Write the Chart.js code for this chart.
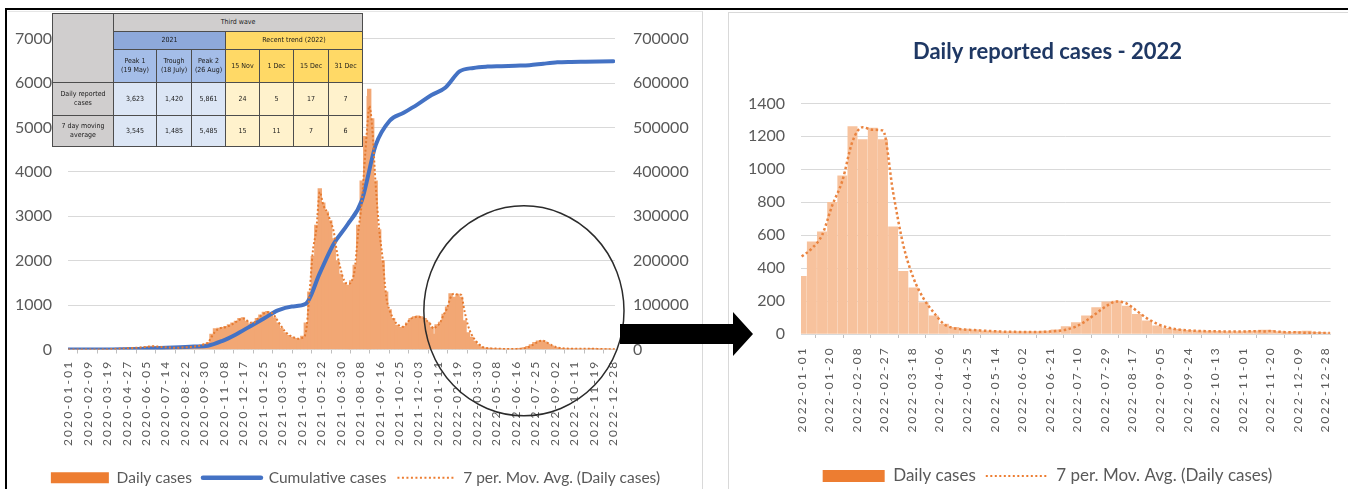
<!DOCTYPE html>
<html>
<head>
<meta charset="utf-8">
<script src="https://cdn.jsdelivr.net/npm/chart.js@4.4.1/dist/chart.umd.min.js"></script>
<style>
  html, body { margin: 0; padding: 0; background: #fff; width: 1348px; height: 489px; overflow: hidden; font-family: Lato, "Open Sans", sans-serif; }
  #frame { position: absolute; left: 5px; top: 8px; width: 1343px; height: 490px; border-top: 2px solid #000; border-left: 2px solid #000; box-sizing: border-box; }
  #leftPanel { position: absolute; left: 8px; top: 11px; width: 695px; height: 490px; border-right: 1px solid #d9d9d9; border-top: 1px solid #e6e6e6; box-sizing: border-box; }
  #rightPanel { position: absolute; left: 728px; top: 12px; width: 620px; height: 490px; border-left: 1px solid #d9d9d9; border-top: 1px solid #d9d9d9; box-sizing: border-box; }
  #leftChart { position: absolute; left: 8px; top: 11px; }
  #rightChart { position: absolute; left: 729px; top: 13px; }
  #waveTable { position: absolute; left: 52px; top: 13px; border-collapse: collapse; table-layout: fixed; width: 310px;
    font-family: "Liberation Sans Narrow", "DejaVu Sans Condensed", "Liberation Sans", sans-serif; font-size: 7px; line-height: 1.25;
    color: #1a1a1a; text-align: center; filter: blur(0.4px); }
  #waveTable td { border: 1px solid #4d4d4d; padding: 0 1px; overflow: hidden; vertical-align: middle; }
  .gray { background: #d0cece; }
  .blueHead { background: #8ea9db; }
  .goldHead { background: #ffd966; }
  .blueLabel { background: #a4bde8; }
  .blueCell { background: #dce6f5; }
  .goldCell { background: #fff2cc; }
  #pointer { position: absolute; left: 0; top: 0; width: 1348px; height: 489px; pointer-events: none; }
</style>
</head>
<body>
<div id="frame"></div>
<div id="leftPanel"></div>
<div id="rightPanel"></div>
<canvas id="leftChart" width="695" height="500"></canvas>
<canvas id="rightChart" width="619" height="500"></canvas>
<table id="waveTable"></table>
<svg id="pointer" viewBox="0 0 1348 489">
  <polygon points="620,324 733,324 733,312 753,334 733,356 733,344 620,344" fill="#000"/>
</svg>
<script>
// ---- Reported cases, sampled weekly from the first day of each range ----
const daily2020to2021 = [
  0, 0, 0, 0, 0, 0, 0, 0, 0, 0, 0,
  2, 8, 15, 20, 22, 25, 30, 35, 40, 45,
  50, 60, 70, 75, 70, 60, 55, 50, 45, 40,
  40, 45, 50, 55, 60, 70, 80, 100, 130, 160,
  350, 470, 480, 500, 520, 560, 600, 640, 700, 720,
  640, 580, 620, 700, 780, 840, 860, 820, 720, 600,
  480, 380, 320, 280, 250, 240, 300, 600, 1300, 2100,
  2800, 3623, 3300, 3100, 2900, 2500, 2000, 1700, 1500, 1450,
  1550, 1900, 2800, 3800, 4800, 5700, 5200, 3800, 2700, 2000,
  1300, 900, 700, 550, 500, 520, 600, 700, 740, 760,
  740, 700, 620, 500
];
const movingAvg2020to2021 = [
  0, 0, 0, 0, 0, 0, 0, 0, 0, 0, 0,
  1, 5, 12, 18, 20, 23, 28, 33, 38, 43,
  48, 55, 65, 72, 70, 62, 56, 50, 46, 42,
  40, 43, 48, 53, 58, 66, 76, 92, 120, 150,
  280, 400, 460, 490, 500, 530, 570, 620, 670, 700,
  660, 600, 600, 670, 750, 810, 840, 830, 760, 640,
  520, 410, 340, 290, 260, 240, 260, 380, 1200, 2200,
  2700, 3545, 3250, 3100, 2900, 2650, 2150, 1800, 1550, 1480,
  1520, 1800, 2640, 3300, 4400, 5400, 5000, 3700, 2700, 2040,
  1200, 880, 700, 580, 530, 510, 600, 690, 720, 740,
  720, 690, 620, 540
];
const daily2022 = [
  350, 560, 620, 800, 960, 1260, 1180, 1250, 1180, 650,
  380, 280, 190, 110, 60, 40, 30, 25, 20, 18,
  15, 15, 14, 15, 18, 25, 45, 70, 110, 160,
  195, 200, 170, 120, 80, 50, 35, 28, 22, 20,
  18, 16, 15, 15, 17, 20, 22, 15, 12, 14,
  12, 10, 7
];
const movingAvg2022 = [
  470, 520, 600, 780, 930, 1170, 1255, 1240, 1235, 860,
  540, 340, 215, 130, 60, 35, 27, 24, 20, 17,
  14, 13, 12, 12, 14, 18, 26, 45, 80, 125,
  170, 198, 185, 140, 95, 62, 40, 28, 22, 19,
  17, 16, 15, 15, 16, 17, 18, 14, 11, 9,
  8, 7, 6
];
// Running total, every 28 days from 2020-01-01
const cumulativeCases = [
  0, 0, 0, 50, 500, 1200, 2300, 3800, 5200, 6500,
  8500, 19000, 34000, 52000, 70000, 88000, 97000, 103000, 172000, 238000,
  282000, 335000, 460000, 515000, 533000, 552000, 573000, 590000, 626000, 634000,
  637000, 638000, 639000, 640000, 643500, 646500, 647500, 648000, 648500, 649000
];

// ---- Reference days quoted in the summary table ----
const keyDates = ['2021-05-19', '2021-07-18', '2021-08-26', '2022-11-15', '2022-12-01', '2022-12-15', '2022-12-31'];
const keyDaily = [3623, 1420, 5861, 24, 5, 17, 7];
const keyAvg = [3545, 1485, 5485, 15, 11, 7, 6];
const tableTitle = 'Third wave';
const tableGroups = ['2021', 'Recent trend (2022)'];
const tableGroupSizes = [3, 4];
const tableColumns = [['Peak 1', '(19 May)'], ['Trough', '(18 July)'], ['Peak 2', '(26 Aug)'], ['15 Nov'], ['1 Dec'], ['15 Dec'], ['31 Dec']];
const tableRowLabels = ['Daily reported cases', '7 day moving average'];

// ---- Axis tick labels ----
const leftTickLabels = [
  '2020-01-01', '2020-02-09', '2020-03-19', '2020-04-27', '2020-06-05', '2020-07-14', '2020-08-22', '2020-09-30',
  '2020-11-08', '2020-12-17', '2021-01-25', '2021-03-05', '2021-04-13', '2021-05-22', '2021-06-30', '2021-08-08',
  '2021-09-16', '2021-10-25', '2021-12-03', '2022-01-11', '2022-02-19', '2022-03-30', '2022-05-08', '2022-06-16',
  '2022-07-25', '2022-09-02', '2022-10-11', '2022-11-19', '2022-12-28'
];
const rightTickLabels = [
  '2022-01-01', '2022-01-20', '2022-02-08', '2022-02-27', '2022-03-18', '2022-04-06', '2022-04-25', '2022-05-14',
  '2022-06-02', '2022-06-21', '2022-07-10', '2022-07-29', '2022-08-17', '2022-09-05', '2022-09-24', '2022-10-13',
  '2022-11-01', '2022-11-20', '2022-12-09', '2022-12-28'
];

const FONT = 'Lato, "Open Sans", sans-serif';
const AXIS_TEXT = '#595959';
const GRID = '#d9d9d9';
const ORIGIN = '2020-01-01';
const ORIGIN_2022 = '2022-01-01';
const MS_PER_DAY = 86400000;

function dayOffset(iso, origin) {
  return Math.round((Date.parse(iso) - Date.parse(origin)) / MS_PER_DAY);
}
function sampled(values, startIso, step, origin) {
  const start = dayOffset(startIso, origin);
  return values.map((v, i) => ({ x: start + i * step, y: v }));
}
function withKeyDates(points, values, origin) {
  const byDay = new Map(points.map(p => [p.x, p.y]));
  keyDates.forEach((d, i) => {
    const x = dayOffset(d, origin);
    if (x >= 0) byDay.set(x, values[i]);
  });
  return [...byDay.entries()].sort((a, b) => a[0] - b[0]).map(([x, y]) => ({ x, y }));
}

function dateAxis(labels, origin, lastIso, height, fontSize, padding) {
  const byDay = new Map(labels.map(l => [dayOffset(l, origin), l]));
  return {
    type: 'linear', bounds: 'data', offset: false,
    min: -0.5, max: dayOffset(lastIso, origin) + 0.5,
    afterBuildTicks: s => { s.ticks = [...byDay.keys()].map(v => ({ value: v })); },
    afterFit: s => { s.height = height; },
    ticks: { autoSkip: false, minRotation: 90, maxRotation: 90, padding, color: AXIS_TEXT,
             font: { family: FONT, size: fontSize }, callback: v => byDay.get(v) ?? '' },
    grid: { drawOnChartArea: false, drawTicks: true, tickLength: 4, color: '#bfbfbf' },
    border: { display: true, color: GRID }
  };
}
function valueAxis(position, max, step, width, fontSize, showGrid) {
  return {
    position, min: 0, max,
    afterFit: s => { s.width = width; },
    ticks: { stepSize: step, padding: position === 'left' ? 16 : 18, color: AXIS_TEXT,
             font: { family: FONT, size: fontSize }, callback: v => String(v) },
    grid: { display: showGrid, color: GRID, drawTicks: false },
    border: { display: false }
  };
}

// Wider letter spacing for the rotated date labels; value labels may run past their axis box
const axisText = {
  id: 'axisText',
  afterLayout(chart, args, opts) {
    const scale = chart.scales.x;
    if (!scale._spaced) {
      const base = Object.getPrototypeOf(scale).drawLabels;
      scale.drawLabels = function (area) {
        const ctx = this.ctx;
        ctx.save();
        ctx.letterSpacing = opts.spacing + 'px';
        base.call(this, area);
        ctx.restore();
      };
      scale._spaced = true;
    }
    Object.values(chart.scales).forEach(s => {
      if (s.axis === 'y') s._computeLabelArea = () => undefined;
    });
  }
};

// Ring around the 2022 stretch of the full series
const highlightFrom = '2022-01-01';
const highlightTo = '2022-12-31';
const highlightLevel = 870;
const focusRing = {
  id: 'focusRing',
  afterDraw(chart, args, opts) {
    const { x, y } = chart.scales;
    const x0 = x.getPixelForValue(dayOffset(highlightFrom, ORIGIN) - 0.5);
    const x1 = x.getPixelForValue(dayOffset(highlightTo, ORIGIN) + 0.5);
    const ctx = chart.ctx;
    ctx.save();
    ctx.beginPath();
    ctx.ellipse((x0 + x1) / 2, y.getPixelForValue(highlightLevel), (x1 - x0) / 2 + opts.padX, opts.radiusY, 0, 0, Math.PI * 2);
    ctx.lineWidth = 1.5;
    ctx.strokeStyle = '#2b2b2b';
    ctx.stroke();
    ctx.restore();
  }
};

function legendItems(chart, styles) {
  return chart.data.datasets.map((ds, i) => Object.assign({
    text: ds.label, datasetIndex: i, hidden: false, fontColor: AXIS_TEXT, fillStyle: 'rgba(0,0,0,0)'
  }, styles[i]));
}

// ---- Full period: daily, cumulative and moving average ----
new Chart(document.getElementById('leftChart'), {
  type: 'bar',
  plugins: [focusRing, axisText],
  data: {
    datasets: [
      { label: 'Daily cases', order: 3, yAxisID: 'y',
        data: withKeyDates([...sampled(daily2020to2021, ORIGIN, 7, ORIGIN), ...sampled(daily2022, ORIGIN_2022, 7, ORIGIN)], keyDaily, ORIGIN),
        backgroundColor: '#f2a774', borderWidth: 0, barThickness: 3.7 },
      { type: 'line', label: 'Cumulative cases', order: 2, yAxisID: 'y2',
        data: sampled(cumulativeCases, ORIGIN, 28, ORIGIN),
        borderColor: '#4472c4', borderWidth: 4, pointRadius: 0, cubicInterpolationMode: 'monotone', borderCapStyle: 'round' },
      { type: 'line', label: '7 per. Mov. Avg. (Daily cases)', order: 1, yAxisID: 'y',
        data: withKeyDates([...sampled(movingAvg2020to2021, ORIGIN, 7, ORIGIN), ...sampled(movingAvg2022, ORIGIN_2022, 7, ORIGIN)], keyAvg, ORIGIN),
        borderColor: '#e57a30', borderWidth: 2, borderDash: [2, 2.2], pointRadius: 0, cubicInterpolationMode: 'monotone' }
    ]
  },
  options: {
    responsive: false, animation: false, devicePixelRatio: 1,
    layout: { padding: { top: 27, left: 0, right: 0, bottom: 15.5 } },
    scales: {
      x: dateAxis(leftTickLabels, ORIGIN, '2022-12-31', 109.5, 12, 6),
      y: valueAxis('left', 7000, 1000, 60, 16, true),
      y2: valueAxis('right', 700000, 100000, 88, 16, false)
    },
    plugins: {
      focusRing: { padX: 9, radiusY: 105 },
      axisText: { spacing: 2.2 },
      tooltip: { enabled: false },
      legend: {
        position: 'bottom',
        labels: {
          usePointStyle: true, pointStyleWidth: 58, boxHeight: 11, padding: 11,
          color: AXIS_TEXT, font: { family: FONT, size: 15.5 },
          generateLabels: chart => legendItems(chart, [
            { pointStyle: 'rect', fillStyle: '#ed7d31', strokeStyle: '#ed7d31', lineWidth: 0 },
            { pointStyle: 'line', strokeStyle: '#4472c4', lineWidth: 4.5, lineCap: 'round' },
            { pointStyle: 'line', strokeStyle: '#ed7d31', lineWidth: 2, lineDash: [2, 2.5] }
          ])
        }
      }
    }
  }
});

// ---- 2022 close-up ----
new Chart(document.getElementById('rightChart'), {
  type: 'bar',
  plugins: [axisText],
  data: {
    datasets: [
      { label: 'Daily cases', order: 2,
        data: withKeyDates(sampled(daily2022, ORIGIN_2022, 7, ORIGIN_2022), keyDaily, ORIGIN_2022),
        backgroundColor: '#f7c29d', borderWidth: 0, barThickness: 9.3 },
      { type: 'line', label: '7 per. Mov. Avg. (Daily cases)', order: 1,
        data: withKeyDates(sampled(movingAvg2022, ORIGIN_2022, 7, ORIGIN_2022), keyAvg, ORIGIN_2022),
        borderColor: '#ea8440', borderWidth: 2.5, borderDash: [2.5, 2.5], pointRadius: 0, cubicInterpolationMode: 'monotone' }
    ]
  },
  options: {
    responsive: false, animation: false, devicePixelRatio: 1,
    layout: { padding: { top: 0, left: 28, right: 10, bottom: 18.5 } },
    scales: {
      x: dateAxis(rightTickLabels, ORIGIN_2022, '2022-12-31', 123.5, 12, 8),
      y: valueAxis('left', 1400, 200, 44, 16, true)
    },
    plugins: {
      axisText: { spacing: 2.2 },
      tooltip: { enabled: false },
      title: {
        display: true, text: 'Daily reported cases - 2022', color: '#1f3864',
        font: { family: FONT, size: 22, weight: 'bold' }, padding: { top: 26, bottom: 38 }
      },
      legend: {
        position: 'bottom',
        labels: {
          usePointStyle: true, pointStyleWidth: 62, boxHeight: 12, padding: 10,
          color: AXIS_TEXT, font: { family: FONT, size: 17 },
          generateLabels: chart => legendItems(chart, [
            { pointStyle: 'rect', fillStyle: '#ed7d31', strokeStyle: '#ed7d31', lineWidth: 0 },
            { pointStyle: 'line', strokeStyle: '#ed7d31', lineWidth: 2, lineDash: [2, 2.5] }
          ])
        }
      }
    }
  }
});

// ---- Summary table over the full-period chart ----
(function buildTable() {
  const table = document.getElementById('waveTable');
  const widths = [61, 43, 35, 34, 34, 34, 35, 34];
  const heights = [18, 18, 33, 33, 31];
  const fmt = n => n.toLocaleString('en-US');
  const toneOf = col => (col < tableGroupSizes[0] ? 'blue' : 'gold');
  let html = '<colgroup>' + widths.map(w => `<col style="width:${w}px">`).join('') + '</colgroup>';
  html += `<tr style="height:${heights[0]}px"><td rowspan="3" class="gray"></td><td colspan="${tableColumns.length}" class="gray">${tableTitle}</td></tr>`;
  html += `<tr style="height:${heights[1]}px">` + tableGroups.map((g, i) =>
    `<td colspan="${tableGroupSizes[i]}" class="${i === 0 ? 'blueHead' : 'goldHead'}">${g}</td>`).join('') + '</tr>';
  html += `<tr style="height:${heights[2]}px">` + tableColumns.map((c, i) =>
    `<td class="${toneOf(i) === 'blue' ? 'blueLabel' : 'goldHead'}">${c.join('<br>')}</td>`).join('') + '</tr>';
  [keyDaily, keyAvg].forEach((row, r) => {
    html += `<tr style="height:${heights[3 + r]}px"><td class="gray">${tableRowLabels[r]}</td>` +
      row.map((v, i) => `<td class="${toneOf(i) === 'blue' ? 'blueCell' : 'goldCell'}">${fmt(v)}</td>`).join('') + '</tr>';
  });
  table.innerHTML = html;
})();
</script>
</body>
</html>
